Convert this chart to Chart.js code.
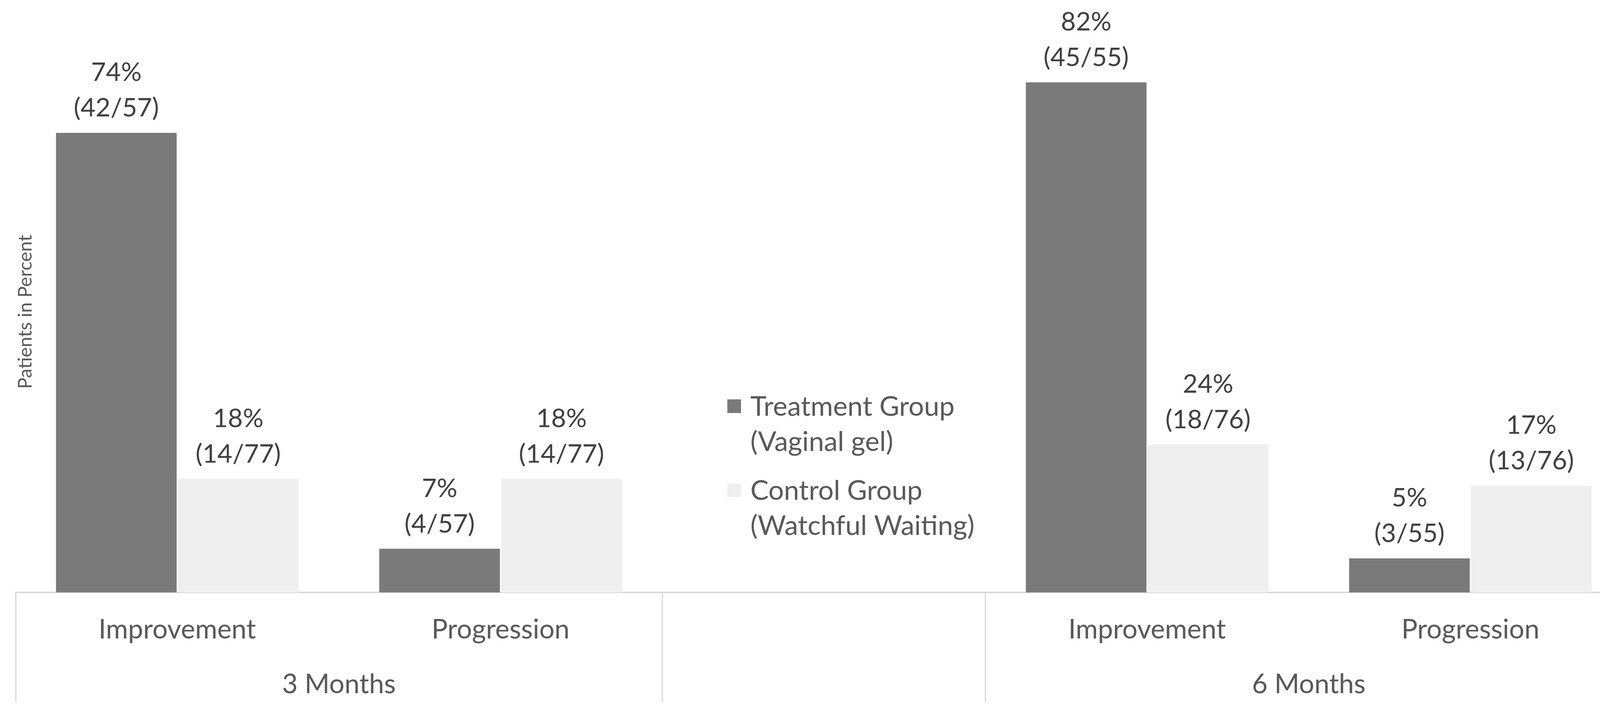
<!DOCTYPE html>
<html>
<head>
<meta charset="UTF-8">
<title>Patients in Percent</title>
<style>
    body {
        margin: 0;
        background: #ffffff;
        overflow: hidden;
    }
    #chartContainer {
        width: 4219px;
        height: 1840px;
    }
    canvas {
        display: block;
    }
</style>
<script src="https://cdn.jsdelivr.net/npm/chart.js"></script>
</head>
<body>

<div id="chartContainer">
    <canvas id="outcomeChart" width="4219" height="1840"></canvas>
</div>

<script>
// categories on the x axis (middle one is the empty slot that holds the legend)
let categories = ['Improvement', 'Progression', '', 'Improvement', 'Progression'];
let groupLabels = ['3 Months', '6 Months'];
let groupTickValues = [1, 4];

let seriesNames = ['Treatment Group\n(Vaginal gel)', 'Control Group\n(Watchful Waiting)'];
let treatment = [73.7, 7.0, null, 81.8, 5.45];
let control = [18.2, 18.2, null, 23.7, 17.1];
let treatmentCounts = ['42/57', '4/57', null, '45/55', '3/55'];
let controlCounts = ['14/77', '14/77', null, '18/76', '13/76'];

const FONT = 'Lato, "Open Sans", sans-serif';
Chart.defaults.font.family = FONT;

const counts = [treatmentCounts, controlCounts];

// labels above each bar: "74%" on top, "(42/57)" below
const barLabels = {
    id: 'barLabels',
    afterDatasetsDraw(chart) {
        const ctx = chart.ctx;
        ctx.save();
        ctx.font = '66px ' + FONT;
        ctx.fillStyle = '#404040';
        ctx.textAlign = 'center';
        ctx.textBaseline = 'middle';
        chart.data.datasets.forEach((ds, i) => {
            chart.getDatasetMeta(i).data.forEach((bar, j) => {
                if (ds.data[j] == null) return;
                ctx.fillText(Math.round(ds.data[j]) + '%', bar.x, bar.y - 154);
                ctx.fillText('(' + counts[i][j] + ')', bar.x, bar.y - 63);
            });
        });
        ctx.restore();
    }
};

// rotated axis title sitting just inside the left edge
const yTitle = {
    id: 'yTitle',
    afterDraw(chart) {
        const ctx = chart.ctx;
        const area = chart.chartArea;
        ctx.save();
        ctx.translate(area.left + 26, (area.top + area.bottom) / 2);
        ctx.rotate(-Math.PI / 2);
        ctx.font = '48px ' + FONT;
        ctx.fillStyle = '#595959';
        ctx.textAlign = 'center';
        ctx.textBaseline = 'middle';
        ctx.fillText('Patients in Percent', 0, 0);
        ctx.restore();
    }
};

// legend drawn in the empty middle category
const middleLegend = {
    id: 'middleLegend',
    afterDraw(chart) {
        const ctx = chart.ctx;
        const x = chart.scales.x.getPixelForValue(2) - 247;
        const tops = [1022, 1237];
        ctx.save();
        ctx.font = '70px ' + FONT;
        ctx.textAlign = 'left';
        ctx.textBaseline = 'middle';
        chart.data.datasets.forEach((ds, i) => {
            ctx.fillStyle = ds.backgroundColor;
            ctx.fillRect(x, tops[i], 35, 35);
            ctx.fillStyle = '#595959';
            const lines = ds.label.split('\n');
            lines.forEach((line, k) => {
                ctx.fillText(line, x + 59, tops[i] + 19 + k * 90);
            });
        });
        ctx.restore();
    }
};

const ctx = document.getElementById('outcomeChart').getContext('2d');

// tick labels get an empty second line so the label box stays inside the axis box
const outcomeChart = new Chart(ctx, {
    type: 'bar',
    data: {
        labels: categories,
        datasets: [{
            label: seriesNames[0],
            data: treatment,
            backgroundColor: '#7a7a7a',
            barPercentage: 0.99,
            categoryPercentage: 0.754
        }, {
            label: seriesNames[1],
            data: control,
            backgroundColor: '#efefef',
            barPercentage: 0.99,
            categoryPercentage: 0.754
        }]
    },
    options: {
        responsive: false,
        devicePixelRatio: 1,
        animation: false,
        layout: {
            padding: { left: 40, right: 41, top: 80, bottom: 32.2 }
        },
        plugins: {
            legend: { display: false },
            tooltip: { enabled: false }
        },
        scales: {
            y: {
                display: false,
                min: 0,
                max: 90
            },
            x: {
                weight: 0,
                grid: {
                    offset: true,
                    drawOnChartArea: false,
                    drawTicks: true,
                    tickLength: 146.4,
                    lineWidth: 3,
                    color: c => (c.index === 1 || c.index === 4) ? 'rgba(0,0,0,0)' : '#d9d9d9'
                },
                border: { display: true, color: '#d9d9d9', width: 4 },
                ticks: {
                    autoSkip: false,
                    maxRotation: 0,
                    minRotation: 0,
                    padding: -100.8,
                    color: '#595959',
                    font: { size: 69, lineHeight: 100.8 / 69 },
                    callback: function (v) {
                        return [this.getLabelForValue(v), ''];
                    }
                }
            },
            x2: {
                type: 'linear',
                position: 'bottom',
                weight: 1,
                min: 0,
                max: 5,
                offset: false,
                afterBuildTicks: axis => {
                    axis.ticks = [0, 1, 2, 3, 4, 5].map(v => ({ value: v }));
                },
                grid: {
                    offset: false,
                    drawOnChartArea: false,
                    drawTicks: true,
                    tickLength: 134.6,
                    lineWidth: 3,
                    color: c => groupTickValues.includes(c.tick && c.tick.value) ? 'rgba(0,0,0,0)' : '#d9d9d9'
                },
                border: { display: false },
                ticks: {
                    autoSkip: false,
                    maxRotation: 0,
                    minRotation: 0,
                    padding: -95.4,
                    color: '#595959',
                    font: { size: 69, lineHeight: 100.8 / 69 },
                    callback: v => {
                        const k = groupTickValues.indexOf(v);
                        return [k >= 0 ? groupLabels[k] : '', ''];
                    }
                }
            }
        }
    },
    plugins: [barLabels, yTitle, middleLegend]
});
</script>

</body>
</html>
